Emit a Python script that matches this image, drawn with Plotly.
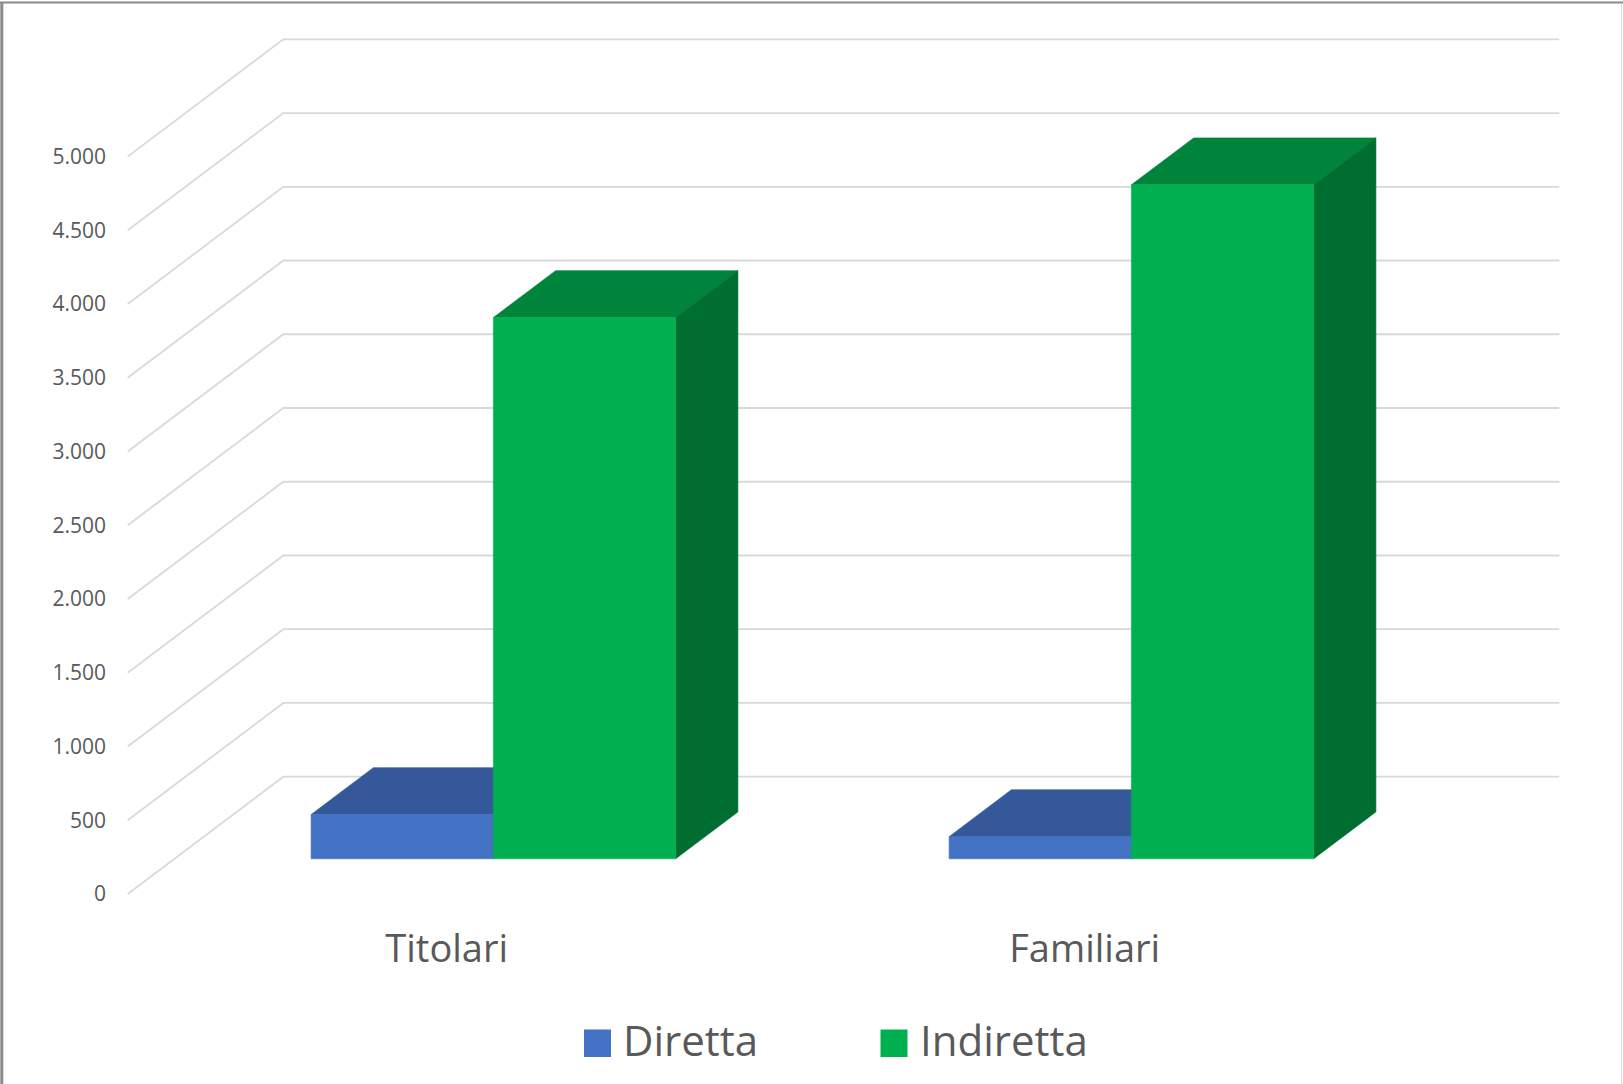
import plotly.graph_objects as go

# ---------------- data ----------------
categories = ["Titolari", "Familiari"]
series_names = ["Diretta", "Indiretta"]
diretta = [300, 150]
indiretta = [3670, 4570]
y_ticks = [0, 500, 1000, 1500, 2000, 2500, 3000, 3500, 4000, 4500, 5000]

# face colours per series: front, top, side
front_colors = ["#4472C4", "#00B050"]
top_colors = ["#34589A", "#00833B"]
side_colors = ["#2B4C84", "#006E31"]

TEXT = "#595959"
GRID = "#d9d9d9"
FONT = "Open Sans"

# ---------------- geometry (oblique 3D projection) ----------------
W, H = 1623, 1084
L = 110                      # left margin (room for y tick labels)
PX0, PXU = 127.7, 638.0      # pixel x of front-floor left, pixels per category
PY0, K = 894.0, 0.14748      # pixel y of front value 0, pixels per value unit
DX = 155.6 / PXU             # full depth offset, x (category units)
DY = 117.3 / K               # full depth offset, y (value units)
BW = 1 / 3.5                 # bar width (gap width 150%)
GAP = 0.75 * BW
D0, D1 = 0.3, 0.7            # depth slab occupied by bars


def proj(u, v, d):
    return u + d * DX, v + d * DY


def poly(points):
    xs, ys = [], []
    for (u, v, d) in points:
        x, y = proj(u, v, d)
        xs.append(x)
        ys.append(y)
    xs.append(xs[0])
    ys.append(ys[0])
    return xs, ys


fig = go.Figure()

# walls gridlines: side wall diagonals + back wall horizontals
gx, gy = [], []
n = len(categories)
for v in y_ticks:
    for (u, d) in [(0, 0), (0, 1), (n, 1)]:
        x, y = proj(u, v, d)
        gx.append(x)
        gy.append(y)
    gx.append(None)
    gy.append(None)
fig.add_trace(go.Scatter(x=gx, y=gy, mode="lines", line=dict(color=GRID, width=1.8),
                         hoverinfo="skip", showlegend=False))

# bars
values = [diretta, indiretta]
for i, cat in enumerate(categories):
    for s, name in enumerate(series_names):
        val = values[s][i]
        u0 = i + GAP + s * BW
        u1 = u0 + BW
        faces = [
            ([(u0, val, D0), (u1, val, D0), (u1, val, D1), (u0, val, D1)], top_colors[s]),
            ([(u1, 0, D0), (u1, val, D0), (u1, val, D1), (u1, 0, D1)], side_colors[s]),
            ([(u0, 0, D0), (u1, 0, D0), (u1, val, D0), (u0, val, D0)], front_colors[s]),
        ]
        for pts, col in faces:
            xs, ys = poly(pts)
            fig.add_trace(go.Scatter(x=xs, y=ys, mode="lines", fill="toself",
                                     fillcolor=col, line=dict(color=col, width=0.6),
                                     name=name, hoverinfo="skip", showlegend=False))


def xp(px):
    return (px - L) / (W - L)


def yp(py):
    return 1 - py / H


shapes = [
    dict(type="line", xref="paper", yref="paper", x0=xp(0), x1=xp(W), y0=yp(2.5), y1=yp(2.5),
         line=dict(color="#8a8a8a", width=2)),
    dict(type="line", xref="paper", yref="paper", x0=xp(1.8), x1=xp(1.8), y0=yp(2), y1=yp(H),
         line=dict(color="#8a8a8a", width=3)),
    dict(type="line", xref="paper", yref="paper", x0=xp(1621.5), x1=xp(1621.5), y0=yp(3), y1=yp(H),
         line=dict(color="#dadada", width=1)),
]

# legend (manual, Excel-style)
legend_items = [(584.0, 621.0), (880.5, 918.0)]
annotations = []
for s, name in enumerate(series_names):
    sx, tx = legend_items[s]
    shapes.append(dict(type="rect", xref="paper", yref="paper",
                       x0=xp(sx), x1=xp(sx + 27), y0=yp(1029.5), y1=yp(1057),
                       fillcolor=front_colors[s], line=dict(width=0)))
    annotations.append(dict(xref="paper", yref="paper", x=xp(tx), y=yp(1039),
                            xanchor="left", yanchor="middle", showarrow=False, text=name,
                            font=dict(family=FONT, size=42, color=TEXT)))

fig.update_layout(
    width=W, height=H,
    margin=dict(l=L, r=0, t=0, b=0, pad=0),
    paper_bgcolor="white", plot_bgcolor="white",
    separators=",.",
    showlegend=False,
    font=dict(family=FONT, color=TEXT),
    shapes=shapes,
    annotations=annotations,
    xaxis=dict(range=[(L - PX0) / PXU, (W - PX0) / PXU], showgrid=False, zeroline=False,
               showline=False, ticks="", anchor="free", position=(H - 922.5) / H,
               tickmode="array", tickvals=[i + 0.5 for i in range(n)], ticktext=categories,
               tickfont=dict(family=FONT, size=38, color=TEXT), fixedrange=True),
    yaxis=dict(range=[(PY0 - H) / K, PY0 / K], showgrid=False, zeroline=False,
               showline=False, ticks="", tickmode="array", tickvals=y_ticks,
               tickformat=",d", tickfont=dict(family=FONT, size=21, color=TEXT),
               ticklabelstandoff=3, fixedrange=True),
)

fig.write_html("out.html", config={"displayModeBar": False},
               post_script="document.body.style.margin='0';document.body.style.overflow='hidden';")
